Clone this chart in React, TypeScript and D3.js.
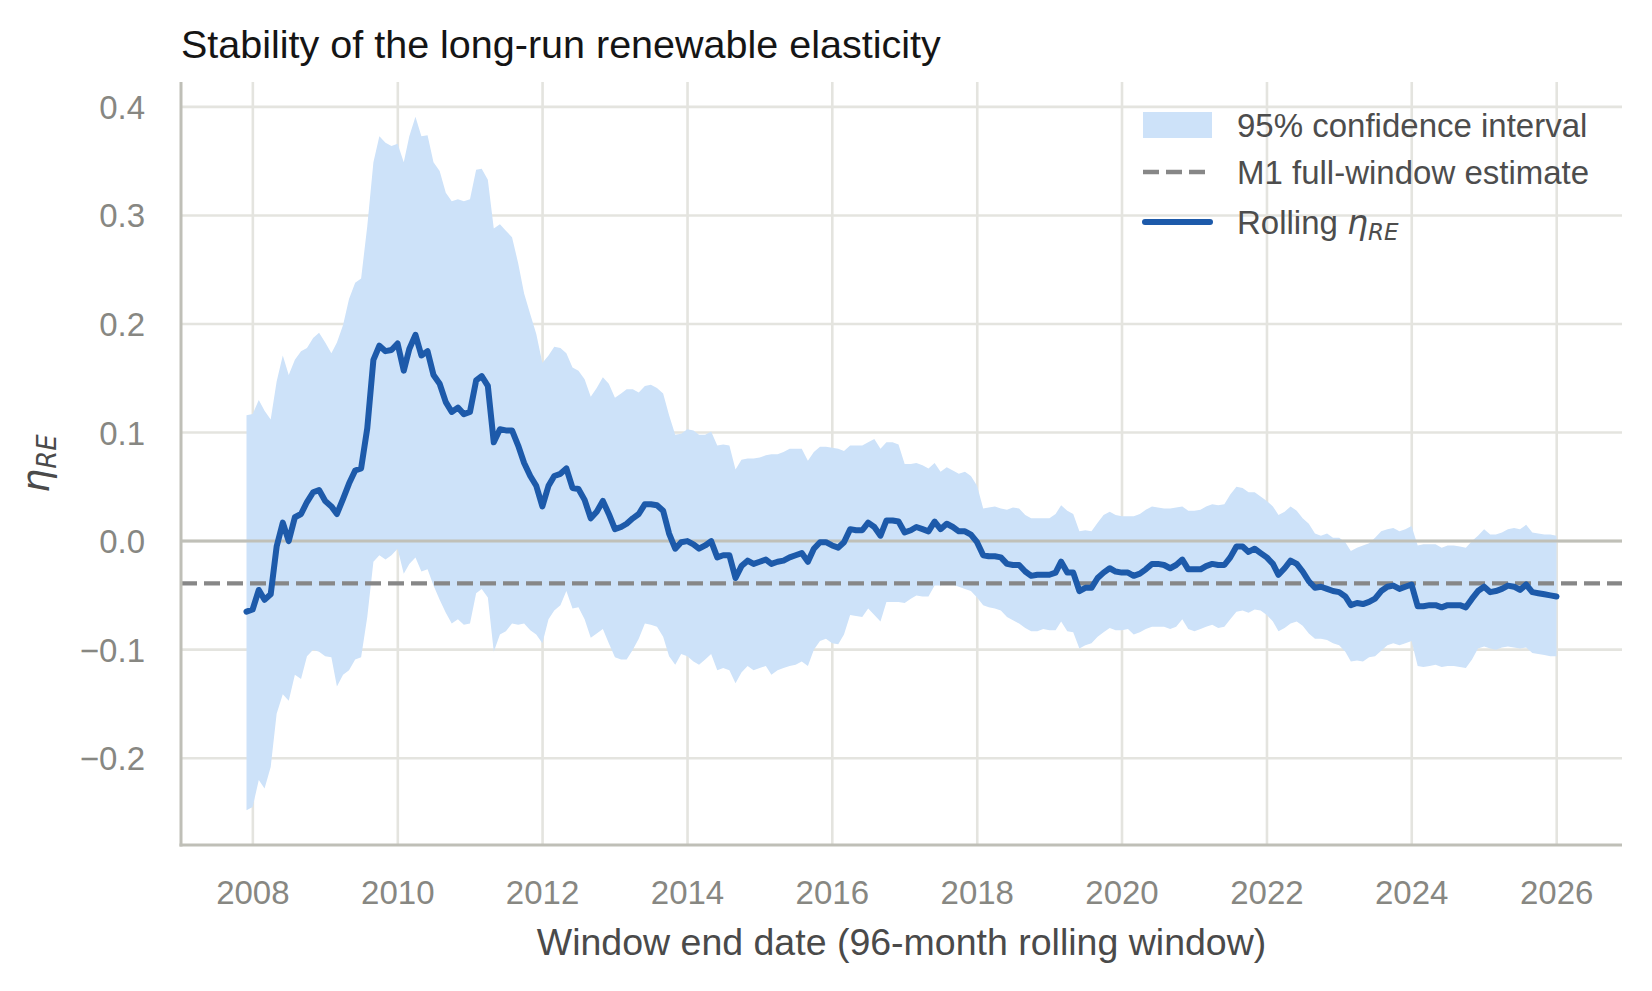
import React from 'react';
import * as d3 from 'd3';

// monthly window end dates, Nov 2007 .. Dec 2025 (month ends)
const firstMonth = new Date(Date.UTC(2007, 11, 1));
const lastMonth = new Date(Date.UTC(2026, 0, 1));
const windowEnds = d3.utcMonth.range(firstMonth, d3.utcMonth.offset(lastMonth, 1)).map(d => d3.utcDay.offset(d, -1));

const rollingEta = [
  -0.065, -0.063, -0.045, -0.054, -0.049, -0.005, 0.017, 0.000, 0.022, 0.025,
  0.036, 0.045, 0.047, 0.037, 0.032, 0.025, 0.039, 0.053, 0.065, 0.067,
  0.104, 0.167, 0.180, 0.175, 0.176, 0.182, 0.157, 0.177, 0.190, 0.171,
  0.175, 0.153, 0.145, 0.128, 0.119, 0.123, 0.117, 0.119, 0.148, 0.152,
  0.143, 0.091, 0.103, 0.102, 0.102, 0.088, 0.072, 0.060, 0.051, 0.032,
  0.051, 0.060, 0.062, 0.067, 0.049, 0.048, 0.038, 0.021, 0.027, 0.037,
  0.025, 0.011, 0.013, 0.016, 0.021, 0.025, 0.034, 0.034, 0.033, 0.028,
  0.007, -0.007, -0.001, 0.000, -0.003, -0.007, -0.004, 0.000, -0.015, -0.013,
  -0.013, -0.034, -0.023, -0.018, -0.021, -0.019, -0.017, -0.021, -0.019, -0.018,
  -0.015, -0.013, -0.011, -0.019, -0.007, -0.001, -0.001, -0.004, -0.006, -0.001,
  0.011, 0.010, 0.010, 0.017, 0.013, 0.005, 0.019, 0.019, 0.018, 0.008,
  0.010, 0.013, 0.011, 0.009, 0.018, 0.011, 0.016, 0.013, 0.009, 0.009,
  0.006, -0.001, -0.013, -0.014, -0.014, -0.015, -0.021, -0.022, -0.022, -0.028,
  -0.032, -0.031, -0.031, -0.031, -0.029, -0.019, -0.029, -0.029, -0.046, -0.043,
  -0.043, -0.034, -0.029, -0.025, -0.028, -0.029, -0.029, -0.032, -0.030, -0.026,
  -0.021, -0.021, -0.022, -0.025, -0.022, -0.017, -0.026, -0.026, -0.026, -0.023,
  -0.021, -0.022, -0.022, -0.015, -0.005, -0.005, -0.010, -0.007, -0.011, -0.015,
  -0.021, -0.031, -0.025, -0.018, -0.021, -0.028, -0.037, -0.043, -0.042, -0.044,
  -0.046, -0.047, -0.051, -0.059, -0.057, -0.058, -0.056, -0.053, -0.046, -0.042,
  -0.041, -0.044, -0.042, -0.040, -0.060, -0.060, -0.059, -0.059, -0.061, -0.059,
  -0.059, -0.059, -0.061, -0.053, -0.046, -0.042, -0.047, -0.046, -0.044, -0.041,
  -0.042, -0.045, -0.040, -0.047, -0.048, -0.049, -0.050, -0.051,
];

const ciUpper = [
  0.116, 0.117, 0.130, 0.120, 0.112, 0.147, 0.171, 0.153, 0.167, 0.175,
  0.178, 0.187, 0.192, 0.183, 0.173, 0.183, 0.199, 0.223, 0.238, 0.242,
  0.290, 0.349, 0.373, 0.367, 0.364, 0.366, 0.349, 0.373, 0.391, 0.373,
  0.374, 0.349, 0.341, 0.321, 0.313, 0.315, 0.313, 0.315, 0.342, 0.343,
  0.333, 0.288, 0.292, 0.286, 0.280, 0.256, 0.228, 0.209, 0.191, 0.164,
  0.171, 0.179, 0.178, 0.173, 0.160, 0.157, 0.149, 0.133, 0.141, 0.151,
  0.145, 0.132, 0.136, 0.140, 0.140, 0.137, 0.143, 0.144, 0.141, 0.136,
  0.116, 0.098, 0.099, 0.103, 0.102, 0.098, 0.098, 0.101, 0.088, 0.089,
  0.088, 0.066, 0.075, 0.076, 0.076, 0.077, 0.079, 0.080, 0.080, 0.082,
  0.085, 0.085, 0.085, 0.074, 0.082, 0.087, 0.087, 0.086, 0.085, 0.083,
  0.088, 0.088, 0.088, 0.091, 0.094, 0.085, 0.091, 0.091, 0.089, 0.071,
  0.071, 0.072, 0.070, 0.067, 0.072, 0.064, 0.068, 0.065, 0.062, 0.064,
  0.060, 0.051, 0.030, 0.031, 0.032, 0.030, 0.029, 0.031, 0.030, 0.024,
  0.021, 0.021, 0.021, 0.021, 0.025, 0.033, 0.028, 0.025, 0.009, 0.010,
  0.009, 0.017, 0.024, 0.027, 0.024, 0.023, 0.023, 0.023, 0.025, 0.029,
  0.032, 0.031, 0.030, 0.030, 0.031, 0.032, 0.028, 0.028, 0.029, 0.032,
  0.034, 0.033, 0.034, 0.043, 0.050, 0.049, 0.045, 0.045, 0.041, 0.037,
  0.032, 0.024, 0.027, 0.032, 0.028, 0.021, 0.016, 0.007, 0.005, 0.007,
  0.003, 0.003, -0.001, -0.009, -0.006, -0.004, -0.002, 0.003, 0.009, 0.011,
  0.012, 0.009, 0.011, 0.014, -0.004, -0.003, -0.003, -0.003, -0.006, -0.004,
  -0.004, -0.005, -0.006, 0.000, 0.005, 0.011, 0.006, 0.006, 0.008, 0.011,
  0.012, 0.011, 0.015, 0.008, 0.007, 0.006, 0.006, 0.005,
];

const ciLower = [
  -0.248, -0.245, -0.220, -0.228, -0.208, -0.159, -0.141, -0.147, -0.123, -0.127,
  -0.106, -0.100, -0.102, -0.106, -0.107, -0.134, -0.123, -0.119, -0.109, -0.107,
  -0.070, -0.019, -0.013, -0.017, -0.013, -0.007, -0.030, -0.021, -0.015, -0.028,
  -0.026, -0.041, -0.054, -0.066, -0.076, -0.072, -0.077, -0.076, -0.048, -0.044,
  -0.052, -0.102, -0.086, -0.083, -0.076, -0.077, -0.076, -0.082, -0.086, -0.094,
  -0.072, -0.064, -0.059, -0.046, -0.062, -0.061, -0.072, -0.089, -0.085, -0.081,
  -0.094, -0.107, -0.109, -0.109, -0.100, -0.090, -0.076, -0.077, -0.079, -0.088,
  -0.106, -0.114, -0.104, -0.106, -0.111, -0.114, -0.109, -0.104, -0.119, -0.117,
  -0.119, -0.131, -0.121, -0.115, -0.119, -0.117, -0.115, -0.123, -0.119, -0.117,
  -0.115, -0.114, -0.111, -0.115, -0.100, -0.092, -0.090, -0.094, -0.095, -0.086,
  -0.068, -0.069, -0.070, -0.062, -0.068, -0.074, -0.056, -0.056, -0.056, -0.057,
  -0.053, -0.050, -0.051, -0.051, -0.041, -0.041, -0.038, -0.040, -0.042, -0.044,
  -0.046, -0.052, -0.059, -0.061, -0.062, -0.064, -0.070, -0.073, -0.076, -0.080,
  -0.083, -0.083, -0.081, -0.082, -0.082, -0.074, -0.083, -0.084, -0.099, -0.096,
  -0.094, -0.088, -0.084, -0.080, -0.082, -0.082, -0.081, -0.086, -0.084, -0.081,
  -0.079, -0.079, -0.079, -0.081, -0.079, -0.072, -0.081, -0.083, -0.081, -0.079,
  -0.077, -0.080, -0.079, -0.072, -0.065, -0.064, -0.066, -0.063, -0.064, -0.068,
  -0.074, -0.083, -0.080, -0.076, -0.074, -0.078, -0.085, -0.090, -0.090, -0.091,
  -0.094, -0.096, -0.102, -0.111, -0.110, -0.111, -0.107, -0.106, -0.101, -0.096,
  -0.094, -0.096, -0.094, -0.092, -0.115, -0.116, -0.115, -0.114, -0.116, -0.115,
  -0.115, -0.116, -0.117, -0.109, -0.099, -0.097, -0.099, -0.100, -0.098, -0.097,
  -0.098, -0.099, -0.098, -0.103, -0.104, -0.105, -0.106, -0.106,
];

const fullWindowEstimate = -0.039;

const yTicks = [-0.2, -0.1, 0.0, 0.1, 0.2, 0.3, 0.4];
const xTickYears = [2008, 2010, 2012, 2014, 2016, 2018, 2020, 2022, 2024, 2026];

const width = 1652;
const height = 991;
const marginLeft = 181;
const marginRight = 30;
const marginTop = 82;
const marginBottom = 146;

const sans = '"Liberation Sans", Arial, Helvetica, sans-serif';
const mathFont = '"DejaVu Sans", sans-serif';

const fmt = (v: number) => (v < 0 ? '\u2212' : '') + Math.abs(v).toFixed(1);

export default function App() {
  const rows = windowEnds.map((d, i) => ({ date: d, eta: rollingEta[i], lo: ciLower[i], hi: ciUpper[i] }));

  // matplotlib-like 5% margins
  const [x0, x1] = d3.extent(windowEnds) as [Date, Date];
  const xPad = (+x1 - +x0) * 0.05;
  const x = d3.scaleUtc()
    .domain([new Date(+x0 - xPad), new Date(+x1 + xPad)])
    .range([marginLeft, width - marginRight]);

  const yMin = d3.min(ciLower) as number;
  const yMax = d3.max(ciUpper) as number;
  const yPad = (yMax - yMin) * 0.05;
  const y = d3.scaleLinear()
    .domain([yMin - yPad, yMax + yPad])
    .range([height - marginBottom, marginTop]);

  const band = d3.area<typeof rows[number]>()
    .x(d => x(d.date))
    .y0(d => y(d.lo))
    .y1(d => y(d.hi));

  const line = d3.line<typeof rows[number]>()
    .x(d => x(d.date))
    .y(d => y(d.eta));

  const plotBottom = height - marginBottom;
  const plotRight = width - marginRight;
  const gridColor = '#e4e4df';
  const spineColor = '#bfbfb7';

  const legendX = 1143;
  const legendTextX = 1237;
  const legendRows = [125, 172, 222];

  return (
    <>
      <style>{'body{margin:0}'}</style>
      <svg width={width} height={height} style={{ display: 'block', background: '#fff' }}>
        {/* grid */}
        {xTickYears.map(yr => {
          const px = x(new Date(Date.UTC(yr, 0, 1)));
          return <line key={'gx' + yr} x1={px} x2={px} y1={marginTop} y2={plotBottom} stroke={gridColor} strokeWidth={2.6} />;
        })}
        {yTicks.map(t => (
          <line key={'gy' + t} x1={marginLeft} x2={plotRight} y1={y(t)} y2={y(t)} stroke={gridColor} strokeWidth={2.6} />
        ))}

        {/* confidence band */}
        <path d={band(rows) ?? ''} fill="#cde2f9" stroke="none" />

        {/* zero reference */}
        <line x1={marginLeft} x2={plotRight} y1={y(0)} y2={y(0)} stroke="#c0c0b8" strokeWidth={3} />

        {/* full-window estimate */}
        <line x1={marginLeft} x2={plotRight} y1={y(fullWindowEstimate)} y2={y(fullWindowEstimate)}
          stroke="#878787" strokeWidth={4.3} strokeDasharray="16,7" />

        {/* rolling estimate */}
        <path d={line(rows) ?? ''} fill="none" stroke="#1d5aaa" strokeWidth={6} strokeLinejoin="round" strokeLinecap="round" />

        {/* spines */}
        <line x1={marginLeft} x2={marginLeft} y1={marginTop} y2={plotBottom + 1.5} stroke={spineColor} strokeWidth={3} />
        <line x1={marginLeft - 1.5} x2={plotRight} y1={plotBottom} y2={plotBottom} stroke={spineColor} strokeWidth={3} />

        {/* tick labels */}
        {yTicks.map(t => (
          <text key={'ty' + t} x={145} y={y(t) + 12} textAnchor="end" fontFamily={sans} fontSize={33} fill="#878782">
            {fmt(t)}
          </text>
        ))}
        {xTickYears.map(yr => (
          <text key={'tx' + yr} x={x(new Date(Date.UTC(yr, 0, 1)))} y={904} textAnchor="middle" fontFamily={sans} fontSize={33} fill="#878782">
            {yr}
          </text>
        ))}

        {/* axis labels */}
        <text x={(marginLeft + plotRight) / 2} y={955} textAnchor="middle" fontFamily={sans} fontSize={37.5} fill="#4a4a4a">
          Window end date (96-month rolling window)
        </text>
        <text transform={`translate(49, ${(marginTop + plotBottom) / 2}) rotate(-90)`} textAnchor="middle" fontFamily={mathFont} fontSize={37.5} fill="#4a4a4a">
          <tspan fontStyle="italic">η</tspan>
          <tspan fontStyle="italic" fontSize={26} dy={7}>RE</tspan>
        </text>

        {/* title */}
        <text x={marginLeft} y={58} fontFamily={sans} fontSize={39.5} fill="#151515">
          Stability of the long-run renewable elasticity
        </text>

        {/* legend */}
        <rect x={legendX} y={legendRows[0] - 13} width={69} height={26} fill="#cde2f9" />
        <line x1={legendX} x2={legendX + 68} y1={legendRows[1]} y2={legendRows[1]} stroke="#878787" strokeWidth={4.3} strokeDasharray="16,7" />
        <line x1={legendX + 2} x2={legendX + 67} y1={legendRows[2]} y2={legendRows[2]} stroke="#1d5aaa" strokeWidth={6} strokeLinecap="round" />
        <text x={legendTextX} y={legendRows[0] + 12} fontFamily={sans} fontSize={33} fill="#4d4d4d">95% confidence interval</text>
        <text x={legendTextX} y={legendRows[1] + 12} fontFamily={sans} fontSize={33} fill="#4d4d4d">M1 full-window estimate</text>
        <text x={legendTextX} y={legendRows[2] + 12} fontFamily={sans} fontSize={33} fill="#4d4d4d">
          Rolling{' '}
          <tspan fontFamily={mathFont} fontStyle="italic">η</tspan>
          <tspan fontFamily={mathFont} fontStyle="italic" fontSize={23} dy={6}>RE</tspan>
        </text>
      </svg>
    </>
  );
}
